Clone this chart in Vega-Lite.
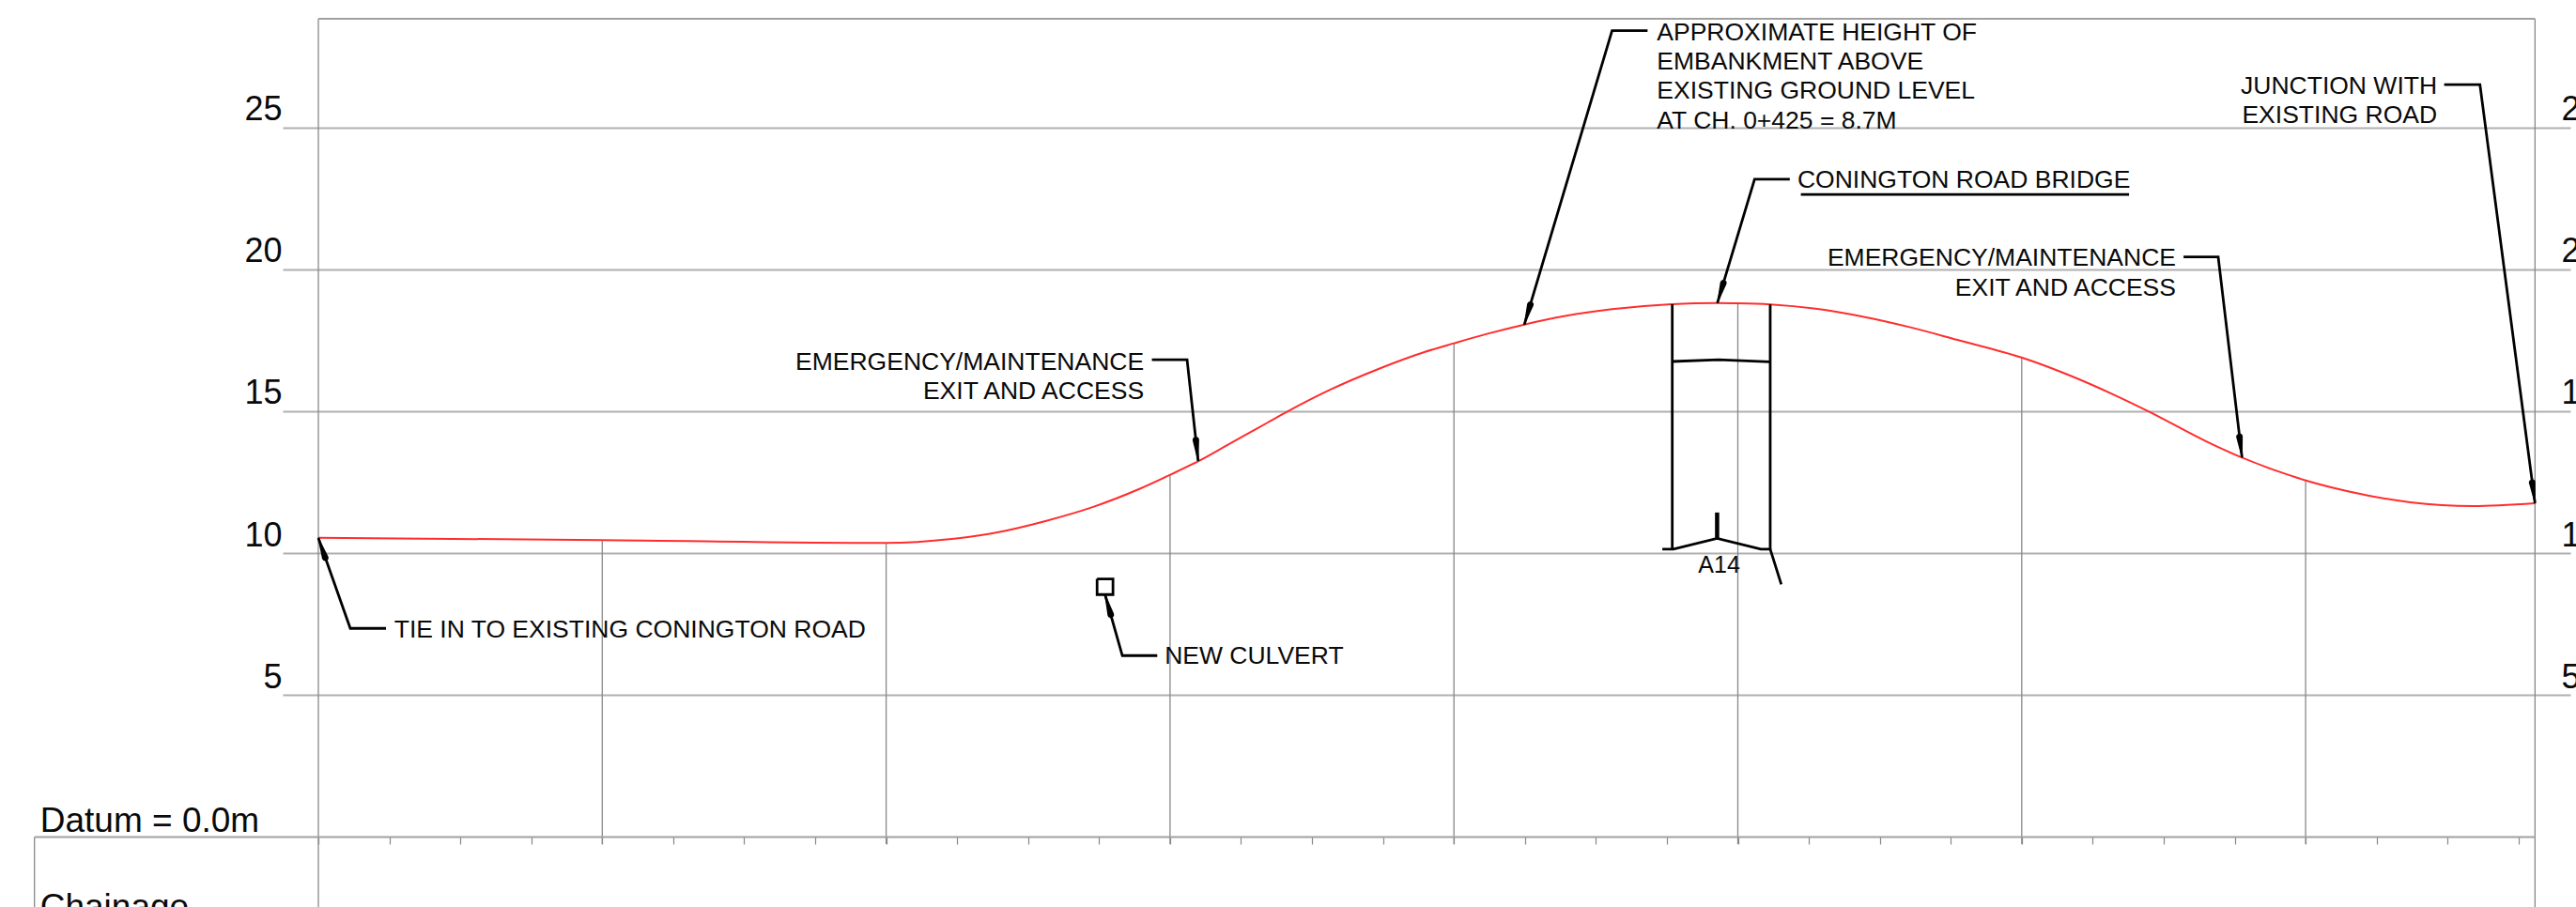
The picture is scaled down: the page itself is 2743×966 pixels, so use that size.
{"$schema":"https://vega.github.io/schema/vega-lite/v6.json","width":2436,"height":946,"autosize":{"type":"none"},"padding":{"left":301,"top":20,"right":6,"bottom":0},"background":"white","config":{"view":{"stroke":null},"text":{"font":"Liberation Sans","color":"#0a0a0a"},"axis":{"labelFont":"Liberation Sans"}},
"encoding":{"x":{"field":"chainage","type":"quantitative","scale":{"domain":[-12.57,793.25],"nice":false,"zero":false},"title":null,"axis":{"values":[0,25,50,75,100,125,150,175,200,225,250,275,300,325,350,375,400,425,450,475,500,525,550,575,600,625,650,675,700,725,750,775],"labels":false,"domain":false,"grid":false,"tickSize":7.5,"tickColor":"#888888","tickWidth":1.2,"offset":-74.5,"title":null}},"y":{"field":"level","type":"quantitative","scale":{"domain":[-2.464,28.82],"nice":false,"zero":false},"title":null,"axis":null}},
"resolve":{"axis":{"y":"independent"}},
"layer":[
{"data":{"values":[{"chainage":0,"level":28.82,"level2":-2.464},{"chainage":780.8,"level":28.82,"level2":-2.464},{"chainage":-100,"level":0,"level2":-2.464},{"chainage":100,"level":10.46,"level2":-0.25},{"chainage":200,"level":10.36,"level2":-0.25},{"chainage":300,"level":12.75,"level2":-0.25},{"chainage":400,"level":17.39,"level2":-0.25},{"chainage":500,"level":18.79,"level2":-0.25},{"chainage":600,"level":16.88,"level2":-0.25},{"chainage":700,"level":12.56,"level2":-0.25}]},"mark":{"type":"rule","color":"#888888","strokeWidth":1.3},"encoding":{"y":{"field":"level","type":"quantitative","title":null,"axis":{"orient":"left","values":[5,10,15,20,25],"domain":false,"ticks":false,"grid":true,"gridColor":"#b0b0b0","gridWidth":1.8,"labelFontSize":36,"labelColor":"#0a0a0a","labelPadding":1,"labelBaseline":"alphabetic","labelOffset":-8,"title":null}},"y2":{"field":"level2"}}},
{"data":{"values":[{"chainage":-100,"chainage2":780.8,"level":0},{"chainage":0,"chainage2":780.8,"level":28.82}]},"mark":{"type":"rule","color":"#a0a0a0","strokeWidth":1.8},"encoding":{"x2":{"field":"chainage2"},"y":{"field":"level","type":"quantitative","title":null,"axis":{"orient":"right","values":[5,10,15,20,25],"domain":false,"ticks":false,"grid":false,"labelFontSize":36,"labelColor":"#0a0a0a","labelPadding":-10,"labelBaseline":"alphabetic","labelOffset":-8,"title":null}}}},
{"data":{"values":[{"chainage":0,"level":10.54},{"chainage":99.9,"level":10.46},{"chainage":199.9,"level":10.36},{"chainage":223.1,"level":10.5},{"chainage":239.6,"level":10.74},{"chainage":256.1,"level":11.13},{"chainage":272.7,"level":11.62},{"chainage":289.2,"level":12.26},{"chainage":299.9,"level":12.75},{"chainage":310.2,"level":13.25},{"chainage":320.1,"level":13.8},{"chainage":327.8,"level":14.23},{"chainage":334.4,"level":14.6},{"chainage":341.6,"level":15},{"chainage":356.5,"level":15.76},{"chainage":373,"level":16.47},{"chainage":389.6,"level":17.08},{"chainage":400,"level":17.39},{"chainage":411.6,"level":17.72},{"chainage":424.8,"level":18.05},{"chainage":439.2,"level":18.35},{"chainage":455.7,"level":18.59},{"chainage":476.7,"level":18.77},{"chainage":492.8,"level":18.81},{"chainage":499.8,"level":18.8},{"chainage":511.4,"level":18.76},{"chainage":527.4,"level":18.61},{"chainage":544,"level":18.33},{"chainage":560.5,"level":17.96},{"chainage":577,"level":17.52},{"chainage":600.2,"level":16.88},{"chainage":615.6,"level":16.31},{"chainage":632.2,"level":15.59},{"chainage":644.3,"level":15.01},{"chainage":665.5,"level":13.91},{"chainage":677.4,"level":13.37},{"chainage":700.1,"level":12.56},{"chainage":714.9,"level":12.18},{"chainage":736.9,"level":11.79},{"chainage":759,"level":11.66},{"chainage":780.8,"level":11.76}]},"mark":{"type":"line","color":"#ff2d2d","strokeWidth":2,"interpolate":"monotone"}},
{"data":{"values":[
{"id":"tie","seq":1,"chainage":0,"level":10.53},{"id":"tie","seq":2,"chainage":11.25,"level":7.35},{"id":"tie","seq":3,"chainage":23.82,"level":7.35},
{"id":"culvert","seq":1,"chainage":277.1,"level":8.54},{"id":"culvert","seq":2,"chainage":283.2,"level":6.39},{"id":"culvert","seq":3,"chainage":295.5,"level":6.39},
{"id":"emergency1","seq":1,"chainage":293.6,"level":16.81},{"id":"emergency1","seq":2,"chainage":306,"level":16.81},{"id":"emergency1","seq":3,"chainage":309.9,"level":13.25},
{"id":"height","seq":1,"chainage":468.2,"level":28.4},{"id":"height","seq":2,"chainage":455.7,"level":28.4},{"id":"height","seq":3,"chainage":424.8,"level":18.05},
{"id":"bridge","seq":1,"chainage":518.3,"level":23.17},{"id":"bridge","seq":2,"chainage":505.9,"level":23.17},{"id":"bridge","seq":3,"chainage":492.8,"level":18.81},
{"id":"emergency2","seq":1,"chainage":657,"level":20.43},{"id":"emergency2","seq":2,"chainage":669.2,"level":20.43},{"id":"emergency2","seq":3,"chainage":677.6,"level":13.37},
{"id":"junction","seq":1,"chainage":748.8,"level":26.5},{"id":"junction","seq":2,"chainage":761.4,"level":26.5},{"id":"junction","seq":3,"chainage":780.8,"level":11.76},
{"id":"underline","seq":1,"chainage":522.2,"level":22.63},{"id":"underline","seq":2,"chainage":637.8,"level":22.63},
{"id":"pierL","seq":1,"chainage":476.9,"level":18.77},{"id":"pierL","seq":2,"chainage":476.9,"level":10.14},
{"id":"pierR","seq":1,"chainage":511.4,"level":18.76},{"id":"pierR","seq":2,"chainage":511.4,"level":10.14},
{"id":"soffit","seq":1,"chainage":476.9,"level":16.75},{"id":"soffit","seq":2,"chainage":493.2,"level":16.81},{"id":"soffit","seq":3,"chainage":511.4,"level":16.74},
{"id":"ground","seq":1,"chainage":473.4,"level":10.14},{"id":"ground","seq":2,"chainage":477.3,"level":10.14},{"id":"ground","seq":3,"chainage":492.7,"level":10.52},{"id":"ground","seq":4,"chainage":508.1,"level":10.14},{"id":"ground","seq":5,"chainage":511.4,"level":10.14},{"id":"ground","seq":6,"chainage":515.3,"level":8.9},
{"id":"box","seq":1,"chainage":274.3,"level":9.09},{"id":"box","seq":2,"chainage":279.9,"level":9.09},{"id":"box","seq":3,"chainage":279.9,"level":8.54},{"id":"box","seq":4,"chainage":274.3,"level":8.54},{"id":"box","seq":5,"chainage":274.3,"level":9.09}
]},"mark":{"type":"line","color":"#000000","strokeWidth":2.8,"strokeJoin":"miter"},"encoding":{"detail":{"field":"id"},"order":{"field":"seq"}}},
{"data":{"values":[{"chainage":492.7,"level":11.43},{"chainage":492.7,"level":10.52}]},"mark":{"type":"line","color":"#000000","strokeWidth":4.5}},
{"data":{"values":[
{"id":"a1","w":0,"seq":1,"chainage":0,"level":10.53},{"id":"a1","w":7,"seq":2,"chainage":2.4,"level":9.84},
{"id":"a2","w":0,"seq":1,"chainage":277.1,"level":8.54},{"id":"a2","w":7,"seq":2,"chainage":279.1,"level":7.84},
{"id":"a3","w":0,"seq":1,"chainage":309.9,"level":13.25},{"id":"a3","w":7,"seq":2,"chainage":309.1,"level":13.98},
{"id":"a4","w":0,"seq":1,"chainage":424.8,"level":18.05},{"id":"a4","w":7,"seq":2,"chainage":426.9,"level":18.75},
{"id":"a5","w":0,"seq":1,"chainage":492.8,"level":18.81},{"id":"a5","w":7,"seq":2,"chainage":494.9,"level":19.51},
{"id":"a6","w":0,"seq":1,"chainage":677.6,"level":13.37},{"id":"a6","w":7,"seq":2,"chainage":676.7,"level":14.09},
{"id":"a7","w":0,"seq":1,"chainage":780.8,"level":11.76},{"id":"a7","w":7,"seq":2,"chainage":779.8,"level":12.48}
]},"mark":{"type":"trail","color":"#000000"},"encoding":{"detail":{"field":"id"},"order":{"field":"seq"},"size":{"field":"w","type":"quantitative","scale":null,"legend":null}}},
{"data":{"values":[
{"label":"TIE IN TO EXISTING CONINGTON ROAD","chainage":26.7,"level":7.29},
{"label":"NEW CULVERT","chainage":298.1,"level":6.35},
{"label":"APPROXIMATE HEIGHT OF","chainage":471.5,"level":28.34},
{"label":"EMBANKMENT ABOVE","chainage":471.5,"level":27.3},
{"label":"EXISTING GROUND LEVEL","chainage":471.5,"level":26.27},
{"label":"AT CH. 0+425 = 8.7M","chainage":471.5,"level":25.22},
{"label":"CONINGTON ROAD BRIDGE","chainage":521,"level":23.12}
]},"mark":{"type":"text","align":"left","baseline":"middle","fontSize":26.5},"encoding":{"text":{"field":"label"}}},
{"data":{"values":[
{"label":"EMERGENCY/MAINTENANCE","chainage":290.8,"level":16.73},
{"label":"EXIT AND ACCESS","chainage":290.8,"level":15.68},
{"label":"EMERGENCY/MAINTENANCE","chainage":654.3,"level":20.38},
{"label":"EXIT AND ACCESS","chainage":654.3,"level":19.34},
{"label":"JUNCTION WITH","chainage":746.3,"level":26.45},
{"label":"EXISTING ROAD","chainage":746.3,"level":25.41}
]},"mark":{"type":"text","align":"right","baseline":"middle","fontSize":26.5},"encoding":{"text":{"field":"label"}}},
{"data":{"values":[{"label":"A14","chainage":493.4,"level":9.58}]},"mark":{"type":"text","align":"center","baseline":"middle","fontSize":25},"encoding":{"text":{"field":"label"}}},
{"data":{"values":[{"label":"Datum = 0.0m","chainage":-98,"level":0.18},{"label":"Chainage","chainage":-98,"level":-2.85}]},"mark":{"type":"text","align":"left","baseline":"alphabetic","fontSize":37},"encoding":{"text":{"field":"label"}}}
]}
